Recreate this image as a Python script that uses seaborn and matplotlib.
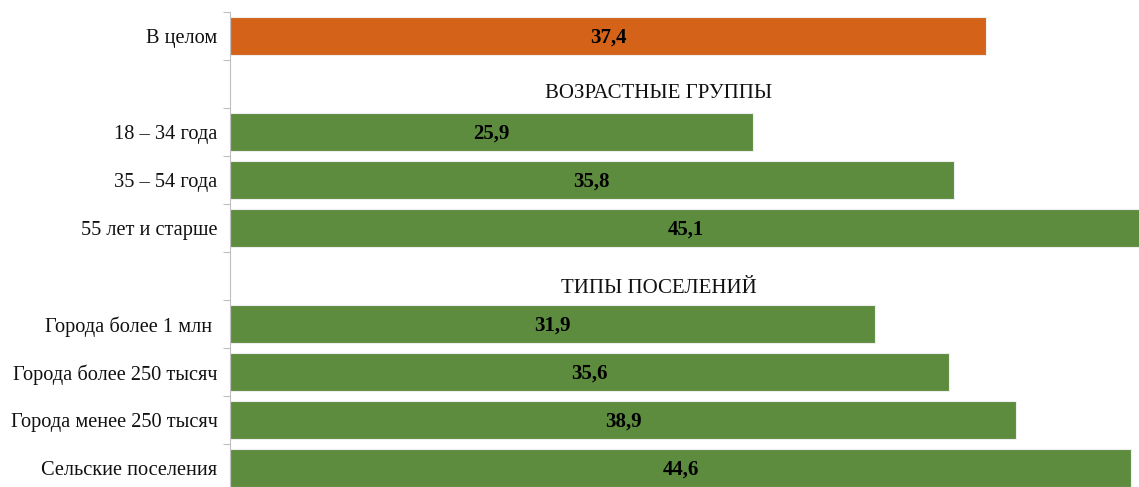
import pandas as pd
import matplotlib.pyplot as plt
import seaborn as sns

# --- Data ---
categories = ["В целом", "_gap1", "18 – 34 года", "35 – 54 года", "55 лет и старше",
              "_gap2", "Города более 1 млн ", "Города более 250 тысяч",
              "Города менее 250 тысяч", "Сельские поселения"]
values = [37.4, None, 25.9, 35.8, 45.1, None, 31.9, 35.6, 38.9, 44.6]
section_titles = ["ВОЗРАСТНЫЕ ГРУППЫ", "ТИПЫ ПОСЕЛЕНИЙ"]

ORANGE = "#D46319"
GREEN = "#5D8C3E"

df = pd.DataFrame({"cat": categories, "val": values}).dropna()
palette = {c: (ORANGE if c == "В целом" else GREEN) for c in df["cat"]}

sns.set_style("white")
plt.rcParams["font.family"] = ["Liberation Serif", "DejaVu Serif"]

fig = plt.figure(figsize=(11.39, 4.87), dpi=100)
ax = fig.add_axes([230 / 1139, -5 / 487, 909 / 1139, 480 / 487])

sns.barplot(data=df, y="cat", x="val", order=categories, hue="cat",
            palette=palette, legend=False, width=0.78, orient="h", saturation=1,
            edgecolor="#eeeeee", linewidth=0.8, ax=ax)

ax.set_xlim(0, 909 / 20.21)
ax.set_ylim(len(categories) - 0.5, -0.5)
ax.set_xlabel("")
ax.set_ylabel("")
ax.set_xticks([])

# tick labels at centers, tick marks at row boundaries
ax.set_yticks(range(len(categories)))
ax.set_yticklabels([c if not c.startswith("_gap") else "" for c in categories], fontsize=14.7)
ax.set_yticks([i - 0.5 for i in range(len(categories) + 1)], minor=True)
ax.tick_params(axis="y", which="major", length=0, pad=9, labelcolor="#111111")
ax.tick_params(axis="y", which="minor", length=5, width=0.8, color="#bfbfbf", direction="out", left=True)

for s in ["top", "right", "bottom"]:
    ax.spines[s].set_visible(False)
ax.spines["left"].set_color("#bfbfbf")
ax.spines["left"].set_linewidth(0.8)

# value labels inside bars
for i, (c, v) in enumerate(zip(categories, values)):
    if v is None:
        continue
    ax.text(v / 2, i + 0.03, f"{v:.1f}".replace(".", ","), ha="center", va="center",
            fontsize=15, fontweight="bold", color="black")

# section headers
ax.text(21.2, 1.2, section_titles[0], ha="center", va="center", fontsize=15, color="#111111")
ax.text(21.2, 5.27, section_titles[1], ha="center", va="center", fontsize=15, color="#111111")

plt.savefig("out.png", dpi=100)
plt.close()
